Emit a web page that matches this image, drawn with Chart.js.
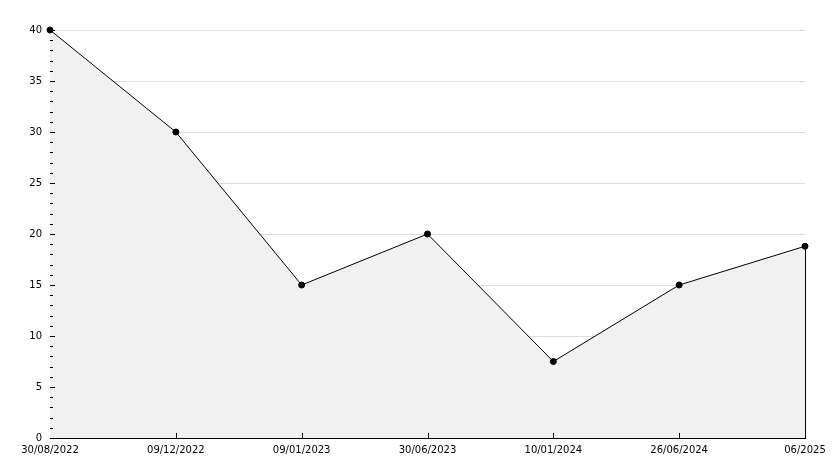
<!DOCTYPE html>
<html>
<head>
<meta charset="utf-8">
<script src="https://cdn.jsdelivr.net/npm/chart.js@4"></script>
<style>
  html, body { margin: 0; padding: 0; background: #fff; }
  #wrap { width: 834px; height: 468px; }
</style>
</head>
<body>
<div id="wrap"><canvas id="myChart" width="834" height="468"></canvas></div>
<script>
const dates = ["30/08/2022", "09/12/2022", "09/01/2023", "30/06/2023", "10/01/2024", "26/06/2024", "06/2025"];
const values = [40, 30, 15, 20, 7.5, 15, 18.8];
const yTicks = [0, 5, 10, 15, 20, 25, 30, 35, 40];

// small inward tick marks and the closing line at the right edge
const axisMarks = {
    id: 'axisMarks',
    beforeDatasetsDraw(chart) {
        const ctx = chart.ctx;
        const x = chart.scales.x;
        const y = chart.scales.y;
        const area = chart.chartArea;
        ctx.save();
        ctx.strokeStyle = '#000';
        ctx.lineWidth = 1;
        ctx.beginPath();
        for (let v = 0; v <= 40; v++) {
            const py = Math.round(y.getPixelForValue(v)) + 0.5;
            const len = v % 5 === 0 ? 5 : 3;
            ctx.moveTo(area.left, py);
            ctx.lineTo(area.left + len, py);
        }
        for (let i = 1; i < dates.length - 1; i++) {
            const px = Math.round(x.getPixelForValue(i)) + 0.5;
            ctx.moveTo(px, area.bottom);
            ctx.lineTo(px, area.bottom - 5);
        }
        ctx.stroke();
        ctx.restore();
    },
    afterDatasetsDraw(chart) {
        const ctx = chart.ctx;
        const x = chart.scales.x;
        const y = chart.scales.y;
        const area = chart.chartArea;
        ctx.save();
        ctx.strokeStyle = '#000';
        ctx.lineWidth = 1;
        ctx.beginPath();
        for (let v = 0; v <= 40; v++) {
            const py = Math.round(y.getPixelForValue(v)) + 0.5;
            const len = v % 5 === 0 ? 5 : 3;
            ctx.moveTo(area.left, py);
            ctx.lineTo(area.left + len, py);
        }
        for (let i = 1; i < dates.length - 1; i++) {
            const px = Math.round(x.getPixelForValue(i)) + 0.5;
            ctx.moveTo(px, area.bottom);
            ctx.lineTo(px, area.bottom - 5);
        }
        const last = values.length - 1;
        const lx = Math.round(x.getPixelForValue(last)) + 0.5;
        ctx.moveTo(lx, y.getPixelForValue(values[last]));
        ctx.lineTo(lx, area.bottom);
        ctx.stroke();
        ctx.restore();
    }
};

const font = { family: 'DejaVu Sans', size: 10 };

new Chart(document.getElementById('myChart').getContext('2d'), {
    type: 'line',
    data: {
        labels: dates,
        datasets: [{
            data: values,
            fill: 'origin',
            clip: false,
            backgroundColor: '#f1f1f1',
            borderColor: '#000',
            borderWidth: 1,
            tension: 0,
            pointRadius: 3,
            pointBackgroundColor: '#000',
            pointBorderColor: '#000',
            pointBorderWidth: 1
        }]
    },
    options: {
        responsive: false,
        animation: false,
        layout: { padding: { top: 30, right: 29, left: 0, bottom: 0 } },
        plugins: { legend: { display: false }, tooltip: { enabled: false } },
        scales: {
            x: {
                offset: false,
                grid: { display: false, drawTicks: false },
                border: { color: '#000', width: 1 },
                ticks: { color: '#000', font: font, padding: 6, maxRotation: 0, autoSkip: false },
                afterFit(scale) { scale.height = 30; }
            },
            y: {
                min: 0,
                max: 40,
                afterBuildTicks(scale) { scale.ticks = yTicks.map(v => ({ value: v })); },
                grid: {
                    color: '#dddddd',
                    drawTicks: false
                },
                border: { color: '#000', width: 1 },
                ticks: { color: '#000', font: font, padding: 8 },
                afterFit(scale) { scale.width = 50; }
            }
        }
    },
    plugins: [axisMarks]
});
</script>
</body>
</html>
